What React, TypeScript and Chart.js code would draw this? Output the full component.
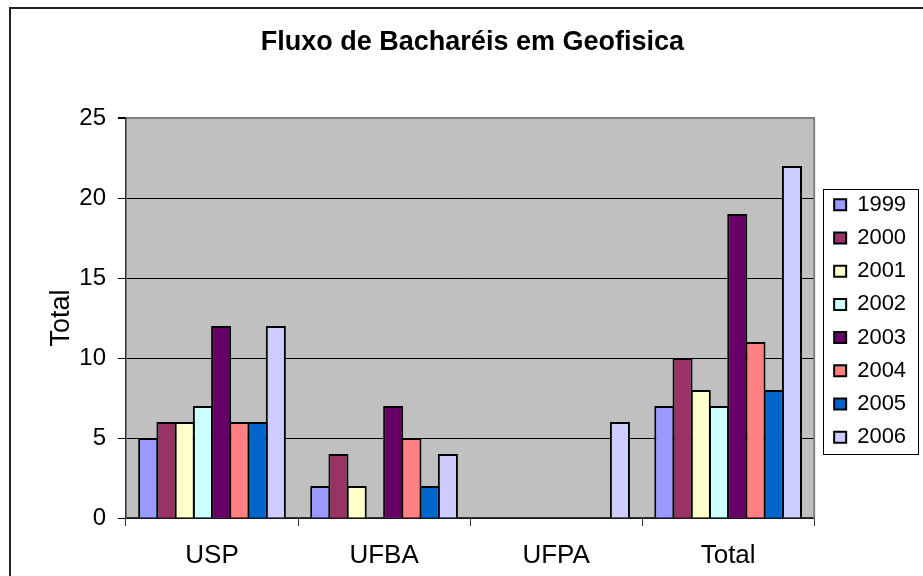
import React, { useEffect, useRef } from "react";
import { Chart, registerables } from "chart.js";

Chart.register(...registerables);

const FONT = "'Liberation Sans', Arial, sans-serif";

const categories = ["USP", "UFBA", "UFPA", "Total"];
const years = ["1999", "2000", "2001", "2002", "2003", "2004", "2005", "2006"];
const v1999 = [5, 2, 0, 7];
const v2000 = [6, 4, 0, 10];
const v2001 = [6, 2, 0, 8];
const v2002 = [7, 0, 0, 7];
const v2003 = [12, 7, 0, 19];
const v2004 = [6, 5, 0, 11];
const v2005 = [6, 2, 0, 8];
const v2006 = [12, 4, 6, 22];
const seriesValues = [v1999, v2000, v2001, v2002, v2003, v2004, v2005, v2006];
const yearColors = ["#9999FF", "#993366", "#FFFFCC", "#CCFFFF", "#660066", "#FF8080", "#0066CC", "#CCCCFF"];
const yTicks = [0, 5, 10, 15, 20, 25];
const chartTitle = "Fluxo de Bacharéis em Geofisica";
const yTitle = "Total";

const framePlugin = {
  id: "frame",
  beforeDraw(chart: any) {
    const { ctx, chartArea: a } = chart;
    ctx.save();
    ctx.fillStyle = "#C0C0C0";
    ctx.fillRect(a.left, a.top, a.right - a.left, a.bottom - a.top);
    ctx.strokeStyle = "#222";
    ctx.lineWidth = 2;
    ctx.beginPath();
    ctx.moveTo(10, chart.height + 20);
    ctx.lineTo(10, 8);
    ctx.lineTo(chart.width + 20, 8);
    ctx.stroke();
    ctx.restore();
  },
  afterDraw(chart: any) {
    const { ctx, chartArea: a } = chart;
    ctx.save();
    ctx.strokeStyle = "#808080";
    ctx.lineWidth = 2;
    ctx.beginPath();
    ctx.moveTo(a.right, a.top - 1);
    ctx.lineTo(a.right, a.bottom);
    ctx.stroke();
    const hb = chart.legend && chart.legend.legendHitBoxes;
    if (hb && hb.length) {
      const first = hb[0];
      const last = hb[hb.length - 1];
      const x0 = first.left - 11;
      const x1 = first.left + 84;
      const y0 = first.top - 5;
      const y1 = last.top + last.height + 6;
      ctx.strokeStyle = "#000";
      ctx.lineWidth = 1;
      ctx.strokeRect(Math.round(x0) + 0.5, Math.round(y0) + 0.5, Math.round(x1 - x0), Math.round(y1 - y0));
    }
    ctx.restore();
  },
};

export default function App() {
  const ref = useRef<HTMLCanvasElement | null>(null);

  useEffect(() => {
    if (!ref.current) return;
    const chart = new Chart(ref.current, {
      type: "bar",
      data: {
        labels: categories,
        datasets: years.map((y, i) => ({
          label: y,
          data: seriesValues[i],
          backgroundColor: yearColors[i],
          borderColor: "#000",
          borderWidth: 2,
          barPercentage: 1.1,
          categoryPercentage: 0.848,
        })),
      },
      options: {
        responsive: false,
        animation: false,
        events: [],
        layout: { padding: { left: 28.7, right: 6.9, top: 0, bottom: 0 } },
        plugins: {
          title: {
            display: true,
            text: chartTitle,
            color: "#000",
            font: { family: FONT, size: 27, weight: "bold" },
            padding: { top: 26.8, bottom: 58.8 },
          },
          legend: {
            position: "right",
            align: "center",
            fullSize: false,
            title: { display: true, text: "", padding: 0, font: { family: FONT, size: 5 } },
            labels: {
              boxWidth: 12,
              boxHeight: 11,
              padding: 11.2,
              color: "#000",
              font: { family: FONT, size: 22 },
            },
          },
          tooltip: { enabled: false },
        },
        scales: {
          x: {
            offset: true,
            ticks: { color: "#000", font: { family: FONT, size: 26 }, padding: 14.6, maxRotation: 0 },
            grid: { display: true, drawOnChartArea: false, drawTicks: true, tickLength: 8, color: "#333", offset: true },
            border: { display: true, color: "#333", width: 1.5 },
            afterFit: (s: any) => {
              s.height = 58;
            },
          },
          y: {
            min: 0,
            max: 25,
            afterBuildTicks: (s: any) => {
              s.ticks = yTicks.map((v) => ({ value: v }));
            },
            ticks: { color: "#000", font: { family: FONT, size: 24 }, padding: 12 },
            grid: {
              color: (c: any) => (c.tick && c.tick.value === 25 ? "#808080" : "#000"),
              lineWidth: (c: any) => (c.tick && c.tick.value === 25 ? 2 : 1),
              tickColor: "#000",
              tickLength: 8,
              drawTicks: true,
            },
            border: { display: true, color: "#333", width: 1.5 },
            title: {
              display: true,
              text: yTitle,
              color: "#000",
              font: { family: FONT, size: 27 },
              padding: { top: 16.8, bottom: 0 },
            },
            afterFit: (s: any) => {
              s.width = 97.3;
            },
          },
          yPad: {
            type: "linear",
            position: "right",
            display: true,
            grid: { display: false },
            ticks: { display: false },
            border: { display: false },
            afterFit: (s: any) => {
              s.width = 8.8;
            },
          },
        },
      },
      plugins: [framePlugin],
    } as any);
    return () => chart.destroy();
  }, []);

  return (
    <div style={{ position: "absolute", left: 0, top: 0, width: 923, height: 576, overflow: "hidden", background: "#fff" }}>
      <canvas ref={ref} width={923} height={576} style={{ display: "block" }} />
    </div>
  );
}
